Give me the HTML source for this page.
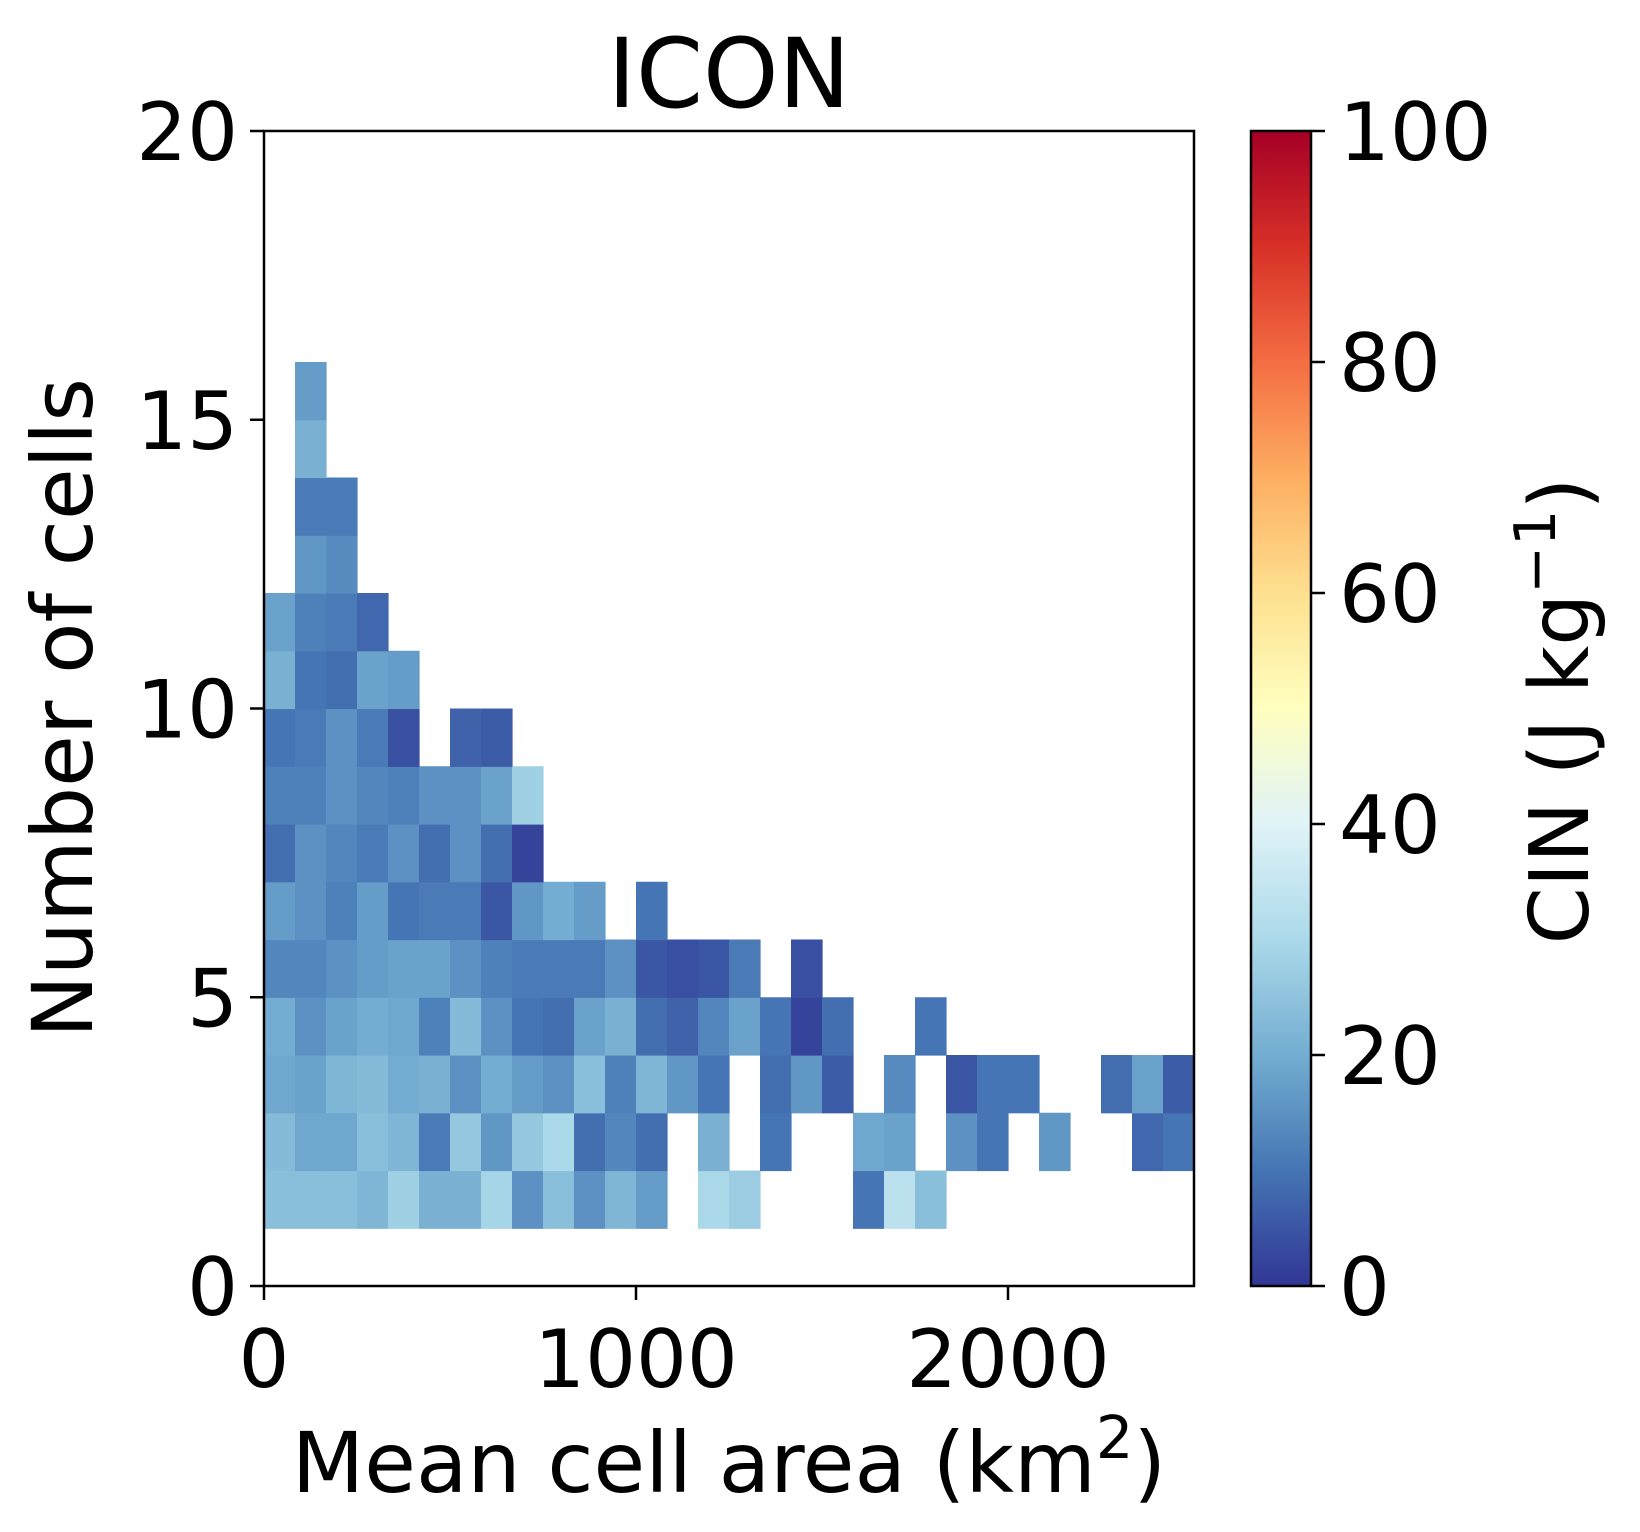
<!DOCTYPE html>
<html><head><meta charset="utf-8"><style>
html,body{margin:0;padding:0;background:#fff;}
svg{display:block;font-family:"DejaVu Sans","Liberation Sans",sans-serif;}
</style></head><body>
<svg id="chart" width="1640" height="1532" viewBox="0 0 1640 1532" xmlns="http://www.w3.org/2000/svg">
<defs>
<linearGradient id="cmap" x1="0" y1="1" x2="0" y2="0">
<stop offset="0" stop-color="#313695"/><stop offset="0.1" stop-color="#4575b4"/><stop offset="0.2" stop-color="#74add1"/><stop offset="0.3" stop-color="#abd9e9"/><stop offset="0.4" stop-color="#e0f3f8"/><stop offset="0.5" stop-color="#ffffbf"/><stop offset="0.6" stop-color="#fee090"/><stop offset="0.7" stop-color="#fdae61"/><stop offset="0.8" stop-color="#f46d43"/><stop offset="0.9" stop-color="#d73027"/><stop offset="1" stop-color="#a50026"/>
</linearGradient>
</defs>
<g id="cells"></g>
<rect x="264" y="131" width="930" height="1155" fill="none" stroke="#000" stroke-width="2.5"/>
<g id="axes"></g>
<text x="729" y="107" font-size="96" text-anchor="middle">ICON</text>
<text x="729" y="1492" font-size="84" text-anchor="middle">Mean cell area (km<tspan font-size="59" dy="-34">2</tspan><tspan dy="34">)</tspan></text>
<text transform="translate(92,708) rotate(-90)" font-size="84" text-anchor="middle">Number of cells</text>
<rect x="1251" y="131" width="60" height="1155" fill="url(#cmap)" stroke="#000" stroke-width="2.5"/>
<g id="cbaxis"></g>
<text transform="translate(1588,711) rotate(-90)" font-size="82" text-anchor="middle">CIN (J kg<tspan font-size="57" dy="-33">−1</tspan><tspan dy="33">)</tspan></text>
</svg>
<script>
const xTicks = [0, 1000, 2000];
const yTicks = [0, 5, 10, 15, 20];
const cbTicks = [0, 20, 40, 60, 80, 100];
const nCols = 30;
const xMax = 2500;
const yMax = 20;
const row1 = [24,24,24,22,28,21,21,29,15,24,15,22,17,null,30,27,null,null,null,10,33,24,null,null,null,null,null,null,null,null];
const row2 = [23,19,19,24,22,11,26,16,26,30,9,13,9,null,21,null,10,null,null,19,18,null,15,10,null,16,null,null,8,10];
const row3 = [19,18,22,23,20,21,15,20,17,15,24,12,22,16,10,null,9,16,6,null,14,null,5,10,10,null,null,9,18,6];
const row4 = [20,15,18,20,19,12,23,15,10,9,18,21,9,7,13,18,10,2,9,null,null,10,null,null,null,null,null,null,null,null];
const row5 = [13,13,15,17,18,18,15,12,11,11,11,15,5,4,5,11,null,4,null,null,null,null,null,null,null,null,null,null,null,null];
const row6 = [17,15,12,17,10,11,11,5,16,20,17,null,10];
const row7 = [9,15,13,11,15,9,15,9,2];
const row8 = [12,12,15,13,12,15,15,18,28];
const row9 = [10,11,15,11,4,null,7,6];
const row10 = [21,10,9,18,17];
const row11 = [18,12,11,8];
const row12 = [null,16,14];
const row13 = [null,11,11];
const row14 = [null,21];
const row15 = [null,17];
const rows = [row1,row2,row3,row4,row5,row6,row7,row8,row9,row10,row11,row12,row13,row14,row15];

const L=264,R=1194,T=131,B=1286;
const xs = v => L + (v/xMax)*(R-L);
const ys = v => B - (v/yMax)*(B-T);
const stops=[[49,54,149],[69,117,180],[116,173,209],[171,217,233],[224,243,248],[255,255,191],[254,224,144],[253,174,97],[244,109,67],[215,48,39],[165,0,38]];
function cmap(v){let t=Math.max(0,Math.min(1,v/100))*10;let i=Math.min(9,Math.floor(t));let f=t-i;const a=stops[i],b=stops[i+1];return 'rgb('+a.map((c,k)=>Math.round(c+(b[k]-c)*f)).join(',')+')';}
const NS='http://www.w3.org/2000/svg';
const cells=document.getElementById('cells');
const bw = xMax/nCols;
rows.forEach((r,ri)=>{const y0=ri+1;r.forEach((v,ci)=>{if(v===null||v===undefined)return;
const el=document.createElementNS(NS,'rect');


const x0=xs(ci*bw),x1=xs((ci+1)*bw);
el.setAttribute('x',x0);el.setAttribute('y',ys(y0+1));
el.setAttribute('width',x1-x0+0.6);el.setAttribute('height',ys(y0)-ys(y0+1)+0.6);
el.setAttribute('fill',cmap(v));cells.appendChild(el);});});
const axes=document.getElementById('axes');
function line(g,x1,y1,x2,y2){const l=document.createElementNS(NS,'line');l.setAttribute('x1',x1);l.setAttribute('y1',y1);l.setAttribute('x2',x2);l.setAttribute('y2',y2);l.setAttribute('stroke','#000');l.setAttribute('stroke-width','2.5');g.appendChild(l);return l;}
function txt(g,x,y,s,anchor){const t=document.createElementNS(NS,'text');t.setAttribute('x',x);t.setAttribute('y',y);t.setAttribute('font-size','80');t.setAttribute('text-anchor',anchor);t.textContent=s;g.appendChild(t);return t;}
xTicks.forEach(v=>{const l=line(axes,xs(v),B,xs(v),B+14);


const t=txt(axes,xs(v),B+101,String(v),'middle');

});
yTicks.forEach(v=>{const l=line(axes,L-14,ys(v),L,ys(v));


const t=txt(axes,L-26,ys(v)+29,String(v),'end');

});
const cb=document.getElementById('cbaxis');
cbTicks.forEach(v=>{const y=B-(v/100)*(B-T);const l=line(cb,1311,y,1325,y);


const t=txt(cb,1339,y+29,String(v),'start');

});
</script>
</body></html>
